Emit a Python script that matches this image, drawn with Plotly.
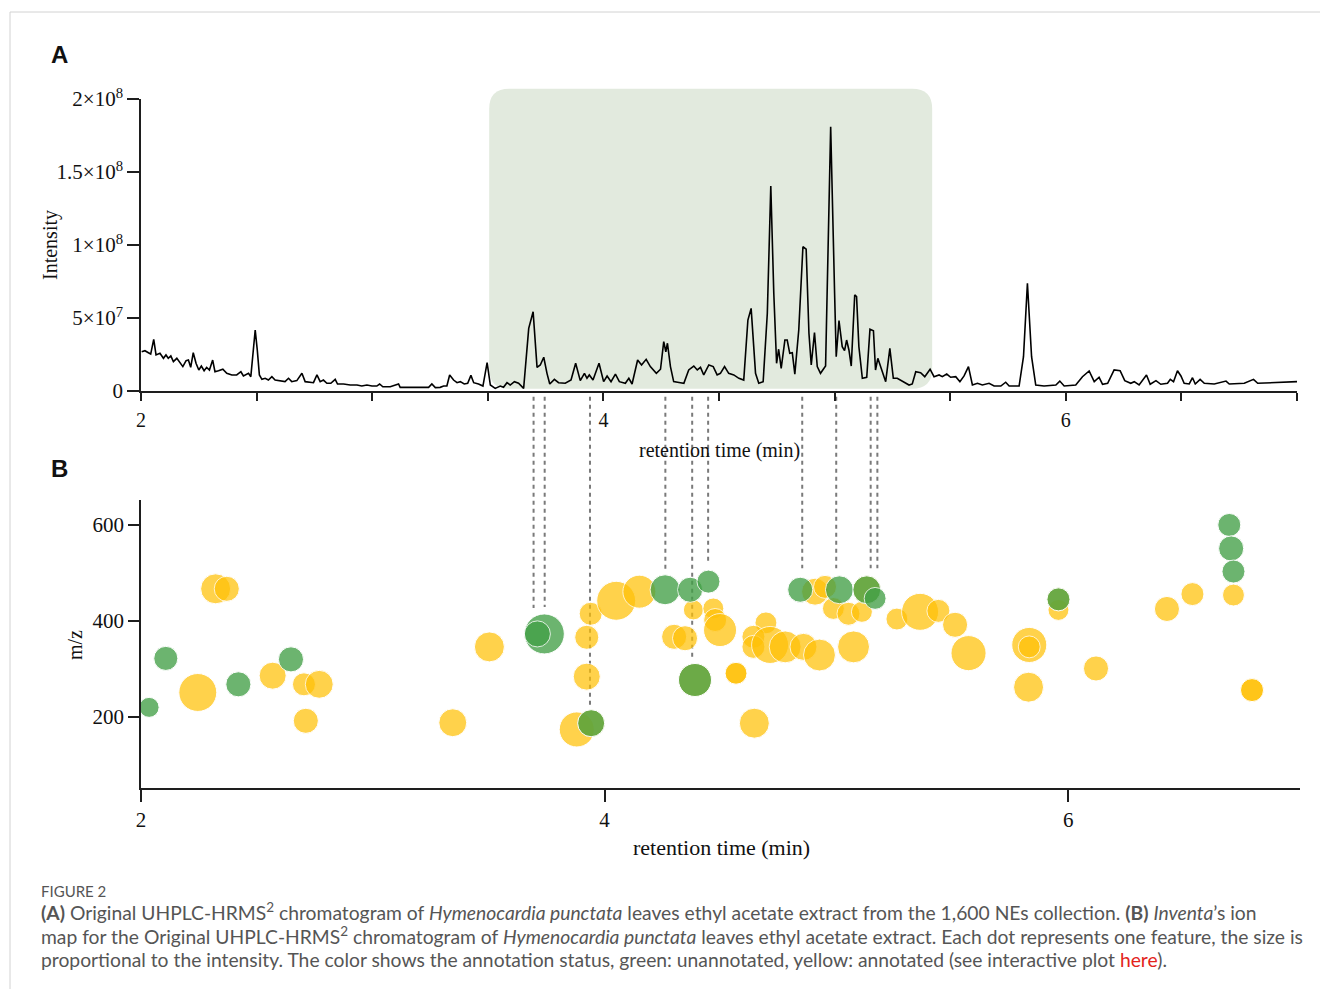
import plotly.graph_objects as go

W, H = 1320, 989

# ---------------- Panel A: chromatogram (retention time in min, intensity in 1e6 units)
rt_a = [2.003, 2.017, 2.032, 2.042, 2.055, 2.065, 2.082, 2.097, 2.108, 2.118, 2.129, 2.140, 2.155, 2.169,
        2.181, 2.195, 2.205, 2.215, 2.226, 2.238, 2.250, 2.261, 2.273, 2.284, 2.296, 2.310, 2.320, 2.335,
        2.354, 2.371, 2.393, 2.414, 2.432, 2.443, 2.465, 2.475, 2.484, 2.494, 2.503, 2.512, 2.523, 2.537,
        2.551, 2.566, 2.580, 2.602, 2.623, 2.638, 2.652, 2.674, 2.696, 2.710, 2.732, 2.746, 2.761, 2.775,
        2.789, 2.804, 2.821, 2.840, 2.850, 2.876, 2.905, 2.934, 2.955, 2.977, 2.999, 3.020, 3.032, 3.046,
        3.078, 3.114, 3.121, 3.165, 3.208, 3.244, 3.258, 3.273, 3.294,
        3.309, 3.323, 3.335, 3.352, 3.367, 3.381, 3.398, 3.413, 3.427, 3.439, 3.460, 3.479, 3.497, 3.511,
        3.532, 3.554, 3.568, 3.583, 3.597, 3.615, 3.633, 3.655, 3.677, 3.696, 3.713, 3.727, 3.742, 3.756,
        3.768, 3.788, 3.806, 3.835, 3.860, 3.880, 3.900, 3.918, 3.929, 3.939, 3.955, 3.981, 4.001, 4.016,
        4.033, 4.052, 4.069, 4.095, 4.110, 4.124, 4.148, 4.165, 4.185, 4.203, 4.229, 4.247, 4.261, 4.270,
        4.277, 4.290, 4.304, 4.333, 4.348, 4.369, 4.391, 4.406, 4.420, 4.434, 4.456, 4.475, 4.492, 4.506,
        4.524, 4.542, 4.564, 4.586, 4.607, 4.625, 4.639, 4.658, 4.672, 4.691, 4.709, 4.724, 4.737, 4.749,
        4.758, 4.769, 4.785, 4.795, 4.806, 4.817, 4.828, 4.845, 4.863, 4.877, 4.889, 4.899, 4.913, 4.925,
        4.939, 4.961, 4.983, 5.000, 5.007, 5.019, 5.033, 5.043, 5.052, 5.062, 5.072, 5.087, 5.095, 5.105,
        5.120, 5.139, 5.153, 5.168, 5.177, 5.187, 5.199, 5.221, 5.239, 5.254, 5.271, 5.286, 5.307, 5.322,
        5.336, 5.351, 5.372, 5.390, 5.413, 5.430, 5.452, 5.466, 5.485, 5.502, 5.524, 5.542,
        5.560, 5.579, 5.596, 5.618, 5.639, 5.668, 5.690, 5.719, 5.740, 5.755, 5.798, 5.817, 5.834, 5.852,
        5.870, 5.906, 5.957, 5.974, 5.993, 6.043, 6.072, 6.101, 6.123, 6.144, 6.159, 6.181, 6.209, 6.235,
        6.255, 6.281, 6.296, 6.317, 6.349, 6.365, 6.390, 6.411, 6.440, 6.452, 6.466, 6.483, 6.498, 6.512,
        6.534, 6.548, 6.560, 6.581, 6.599, 6.642, 6.693, 6.707, 6.772, 6.812, 6.830, 6.873, 6.916, 6.960,
        7.000]
int_a = [26.9, 27.6, 26.2, 25.3, 35.4, 24.7, 25.8, 22.4, 24.7, 22.4, 24.0, 20.1, 22.4, 19.0,
         16.7, 20.8, 21.2, 16.2, 26.2, 19.0, 14.4, 17.1, 13.9, 16.2, 14.4, 21.2, 13.2, 13.9,
         14.9, 12.1, 11.0, 11.0, 13.2, 10.3, 12.1, 9.8, 28.0, 41.8, 28.0, 11.0, 8.0, 8.7,
         7.5, 9.8, 7.5, 7.1, 6.4, 8.7, 6.4, 7.1, 12.1, 6.4, 5.7, 5.7, 11.0, 6.4,
         7.5, 5.3, 5.3, 8.0, 4.8, 4.8, 4.1, 4.1, 3.4, 4.1, 3.4, 3.4, 4.8, 2.9,
         2.9, 4.8, 2.5, 2.5, 2.3, 2.5, 4.8, 2.3, 2.5,
         3.4, 3.4, 11.0, 7.5, 5.7, 6.4, 4.8, 5.3, 10.7, 5.7, 4.8, 3.4, 19.4, 4.1,
         1.8, 3.4, 2.5, 5.7, 4.1, 6.4, 5.3, 1.8, 42.9, 54.3, 16.2, 17.8, 23.1, 12.1,
         4.8, 8.0, 5.7, 5.3, 7.5, 19.0, 7.1, 12.1, 8.7, 11.0, 7.5, 19.0, 6.4, 10.3,
         6.4, 11.6, 6.4, 5.3, 8.7, 4.8, 21.2, 17.8, 21.7, 16.7, 12.1, 14.9, 33.8, 26.9,
         32.7, 16.7, 6.4, 5.7, 5.3, 14.4, 17.1, 14.4, 16.2, 11.0, 17.8, 16.7, 11.0, 12.1,
         16.7, 12.1, 11.0, 8.7, 7.5, 48.6, 56.6, 12.1, 5.3, 6.4, 53.2, 140.4, 66.9, 19.0,
         28.6, 15.5, 34.9, 34.9, 25.8, 26.2, 11.6, 41.8, 98.8, 97.1, 39.5, 17.8, 40.0, 16.7,
         12.1, 17.1, 181.0, 66.9, 23.5, 48.2, 30.4, 27.6, 34.9, 28.1, 17.1, 65.8, 64.6, 30.4,
         8.7, 9.4, 42.3, 41.3, 14.4, 22.4, 16.7, 6.4, 29.2, 8.7, 8.7, 7.5, 5.3, 4.1,
         4.8, 13.2, 12.5, 9.8, 14.9, 9.8, 11.0, 9.8, 11.6, 9.4, 9.8, 6.4,
         10.3, 16.7, 4.1, 5.3, 4.1, 5.3, 3.4, 3.4, 6.0, 3.4, 3.4, 23.5, 73.8, 23.5,
         4.1, 3.4, 4.1, 6.8, 3.4, 4.1, 9.8, 13.7, 6.4, 9.4, 4.6, 5.3, 14.4, 13.9,
         7.1, 5.3, 6.4, 4.1, 11.0, 4.6, 7.1, 4.6, 5.3, 8.0, 6.4, 13.9, 10.3, 5.3,
         4.8, 9.1, 4.8, 8.0, 5.3, 4.8, 6.8, 4.8, 5.3, 8.0, 5.3, 5.7, 5.7, 6.2,
         6.4]

# highlighted window of the chromatogram (min) and its top (intensity)
shade_rt = [3.506, 5.422]
shade_top = 2.07e8

# axis ticks, panel A
xticks_a = [2, 2.5, 3, 3.5, 4, 4.5, 5, 5.5, 6, 6.5, 7]
xtext_a = ["2", "", "", "", "4", "", "", "", "6", "", ""]
yticks_a = [0, 5e7, 1e8, 1.5e8, 2e8]
ytext_a = ["0", "5×10<sup>7</sup>", "1×10<sup>8</sup>", "1.5×10<sup>8</sup>", "2×10<sup>8</sup>"]

# ---------------- Panel B: ion map (rt, m/z, relative intensity)
ann_rt = [2.245, 2.322, 2.370, 2.568, 2.703, 2.769, 2.711, 3.345, 3.503, 3.940, 3.923, 3.923, 3.880,
          4.050, 4.150, 4.300, 4.347, 4.383, 4.469, 4.477, 4.498, 4.567, 4.567, 4.646, 4.696, 4.642,
          4.642, 4.714, 4.779, 4.858, 4.927, 5.074, 4.908, 4.951, 4.987, 5.052, 5.110, 5.261, 5.361,
          5.440, 5.512, 5.570, 5.832, 5.832, 5.829, 5.958, 6.120, 6.426, 6.536, 6.713, 6.793, 6.793,
          4.390, 5.958, 3.942, 5.131]
ann_mz = [251, 467, 467, 286, 268, 268, 192, 188, 346, 415, 366, 284, 174,
          442, 461, 367, 364, 423, 426, 402, 381, 291, 291, 187, 396, 367,
          346, 350, 346, 346, 329, 346, 461, 471, 426, 415, 419, 404, 419,
          421, 392, 333, 350, 346, 262, 423, 301, 425, 456, 454, 256, 256,
          277, 445, 187, 465]
ann_int = [14.4, 9.0, 6.3, 7.3, 5.3, 7.8, 6.3, 7.8, 9.0, 5.3, 5.8, 7.3, 12.3,
           15.2, 10.9, 6.3, 6.3, 4.0, 4.4, 5.3, 10.9, 4.8, 4.8, 9.0, 4.8, 5.3,
           5.3, 13.7, 10.2, 7.3, 10.2, 10.2, 7.3, 5.3, 4.8, 5.3, 4.4, 4.8, 13.7,
           5.3, 6.3, 12.3, 12.3, 4.8, 9.0, 4.4, 6.3, 6.3, 5.3, 4.8, 5.3, 5.3,
           10.9, 5.3, 7.3, 7.8]

unann_rt = [2.035, 2.107, 2.420, 2.647, 3.740, 3.710, 3.942, 4.261, 4.369, 4.448, 4.390, 4.844,
            5.013, 5.131, 5.167, 5.958, 6.695, 6.703, 6.713]
unann_mz = [220, 322, 268, 320, 373, 373, 187, 465, 465, 482, 277, 465,
            465, 465, 447, 445, 600, 551, 503]
unann_int = [4.0, 5.8, 6.3, 6.3, 16.0, 6.8, 7.3, 9.0, 6.3, 5.3, 10.9, 6.3,
             7.8, 7.8, 4.8, 5.3, 5.3, 6.3, 5.3]

# dashed links between chromatogram peaks and ion-map features
link_rt = [3.698, 3.746, 3.942, 4.268, 4.384, 4.453, 4.860, 5.007, 5.156, 5.185]
link_mz = [427, 429, 221, 506, 323, 523, 510, 510, 510, 510]

yrange_a = [0, 2e8]
yrange_b = [52, 652]
xrange_ab = [2, 7]

# ---------------- layout geometry (paper fractions)
A_x = [141 / W, 1297 / W]
A_y = [1 - 391 / H, 1 - 99 / H]
B_x = [141 / W, 1300 / W]
B_y = [1 - 788 / H, 1 - 500 / H]


def a_to_paper(v):
    return A_y[0] + (v - yrange_a[0]) / (yrange_a[1] - yrange_a[0]) * (A_y[1] - A_y[0])


def b_to_paper(v):
    return B_y[0] + (v - yrange_b[0]) / (yrange_b[1] - yrange_b[0]) * (B_y[1] - B_y[0])


SERIF = "Liberation Serif, Times New Roman, serif"
AXC = "#1e1e1e"

fig = go.Figure()

fig.add_trace(go.Scatter(
    x=rt_a, y=[v * 1e6 for v in int_a], mode="lines",
    line=dict(color="#000000", width=1.6), xaxis="x", yaxis="y",
    hoverinfo="skip", showlegend=False))

fig.add_trace(go.Scatter(
    x=ann_rt, y=ann_mz, mode="markers", xaxis="x2", yaxis="y2",
    marker=dict(size=ann_int, sizemode="area", sizeref=0.02, color="#ffc107",
                opacity=0.72, line=dict(color="white", width=1)),
    showlegend=False, hoverinfo="skip"))

fig.add_trace(go.Scatter(
    x=unann_rt, y=unann_mz, mode="markers", xaxis="x2", yaxis="y2",
    marker=dict(size=unann_int, sizemode="area", sizeref=0.02, color="#43a047",
                opacity=0.78, line=dict(color="white", width=1)),
    showlegend=False, hoverinfo="skip"))

shapes = []
# rounded highlighted region
x0, x1 = shade_rt
y0, y1 = a_to_paper(0.15e7), a_to_paper(shade_top)
rx, ry = 0.087, 20 / H
path = (f"M {x0 + rx},{y0} L {x1 - rx},{y0} Q {x1},{y0} {x1},{y0 + ry} "
        f"L {x1},{y1 - ry} Q {x1},{y1} {x1 - rx},{y1} L {x0 + rx},{y1} "
        f"Q {x0},{y1} {x0},{y1 - ry} L {x0},{y0 + ry} Q {x0},{y0} {x0 + rx},{y0} Z")
shapes.append(dict(type="path", path=path, xref="x", yref="paper",
                   fillcolor="#e2eade", line=dict(width=0), layer="below"))

for rt_v, mz_v in zip(link_rt, link_mz):
    shapes.append(dict(type="line", xref="x", yref="paper", x0=rt_v, x1=rt_v,
                       y0=a_to_paper(-0.4e7), y1=b_to_paper(mz_v),
                       line=dict(color="#7a7a7a", width=2, dash="4px,4px"), layer="below"))

# page frame
shapes.append(dict(type="line", xref="paper", yref="paper", x0=10 / W, x1=1, y0=1 - 12 / H, y1=1 - 12 / H,
                   line=dict(color="#d2d2d2", width=1)))
shapes.append(dict(type="line", xref="paper", yref="paper", x0=10 / W, x1=10 / W, y0=0, y1=1 - 12 / H,
                   line=dict(color="#d2d2d2", width=1)))

annotations = [
    dict(text="<b>A</b>", x=59 / W, y=1 - 55 / H, font=dict(family="Liberation Sans, Arial", size=24, color="#111")),
    dict(text="<b>B</b>", x=59 / W, y=1 - 468 / H, font=dict(family="Liberation Sans, Arial", size=24, color="#111")),
    dict(text="Intensity", x=51 / W, y=1 - 245 / H, textangle=-90, font=dict(family=SERIF, size=20, color="#111")),
    dict(text="retention time (min)", x=719 / W, y=1 - 450 / H, font=dict(family=SERIF, size=20, color="#111")),
    dict(text="m/z", x=75 / W, y=1 - 645 / H, textangle=-90, font=dict(family=SERIF, size=20, color="#111")),
    dict(text="retention time (min)", x=721 / W, y=1 - 847 / H, font=dict(family=SERIF, size=22, color="#111")),
]
CAP = "Lato, Open Sans, sans-serif"
cap_lines = [
    ("FIGURE 2", 891, 15),
    ("<b>(A)</b> Original UHPLC-HRMS<sup>2</sup> chromatogram of <i>Hymenocardia punctata</i> leaves ethyl acetate "
     "extract from the 1,600 NEs collection. <b>(B)</b> <i>Inventa</i>’s ion", 911, 19.3),
    ("map for the Original UHPLC-HRMS<sup>2</sup> chromatogram of <i>Hymenocardia punctata</i> leaves ethyl acetate "
     "extract. Each dot represents one feature, the size is", 935, 19.3),
    ("proportional to the intensity. The color shows the annotation status, green: unannotated, yellow: annotated "
     "(see interactive plot <span style='color:#e3231b'>here</span>).", 959, 19.3),
]
for txt, py, fs in cap_lines:
    annotations.append(dict(text=txt, x=39 / W, y=1 - py / H, xanchor="left",
                            font=dict(family=CAP, size=fs, color="#555555")))
for a in annotations:
    a.setdefault("xref", "paper")
    a.setdefault("yref", "paper")
    a.setdefault("showarrow", False)
    a.setdefault("yanchor", "middle")
    a.setdefault("xanchor", "center")

axis_common = dict(showgrid=False, zeroline=False, showline=True, linecolor=AXC, linewidth=1.5,
                   ticks="outside", tickcolor=AXC, tickwidth=1.5, fixedrange=True, automargin=False)

fig.update_layout(
    width=W, height=H, margin=dict(l=0, r=0, t=0, b=0, autoexpand=False),
    paper_bgcolor="white", plot_bgcolor="rgba(0,0,0,0)",
    xaxis=dict(domain=A_x, anchor="y", range=xrange_ab, tickmode="array", tickvals=xticks_a, ticktext=xtext_a,
               ticklen=8, ticklabelstandoff=2, tickfont=dict(family=SERIF, size=20, color="#111"), **axis_common),
    yaxis=dict(domain=A_y, anchor="x", range=yrange_a, tickmode="array", tickvals=yticks_a, ticktext=ytext_a,
               ticklen=12, tickfont=dict(family=SERIF, size=21, color="#111"), **axis_common),
    xaxis2=dict(domain=B_x, anchor="y2", range=xrange_ab, tickmode="array", tickvals=[2, 4, 6],
                ticktext=["2", "4", "6"], ticklen=12, tickfont=dict(family=SERIF, size=21, color="#111"),
                **axis_common),
    yaxis2=dict(domain=B_y, anchor="x2", range=yrange_b, tickmode="array", tickvals=[200, 400, 600],
                ticktext=["200", "400", "600"], ticklen=11, tickfont=dict(family=SERIF, size=21, color="#111"),
                **axis_common),
    shapes=shapes, annotations=annotations,
)

fig.write_html("out.html", config={"displayModeBar": False},
               post_script="document.body.style.margin='0';document.documentElement.style.overflow='hidden';")
